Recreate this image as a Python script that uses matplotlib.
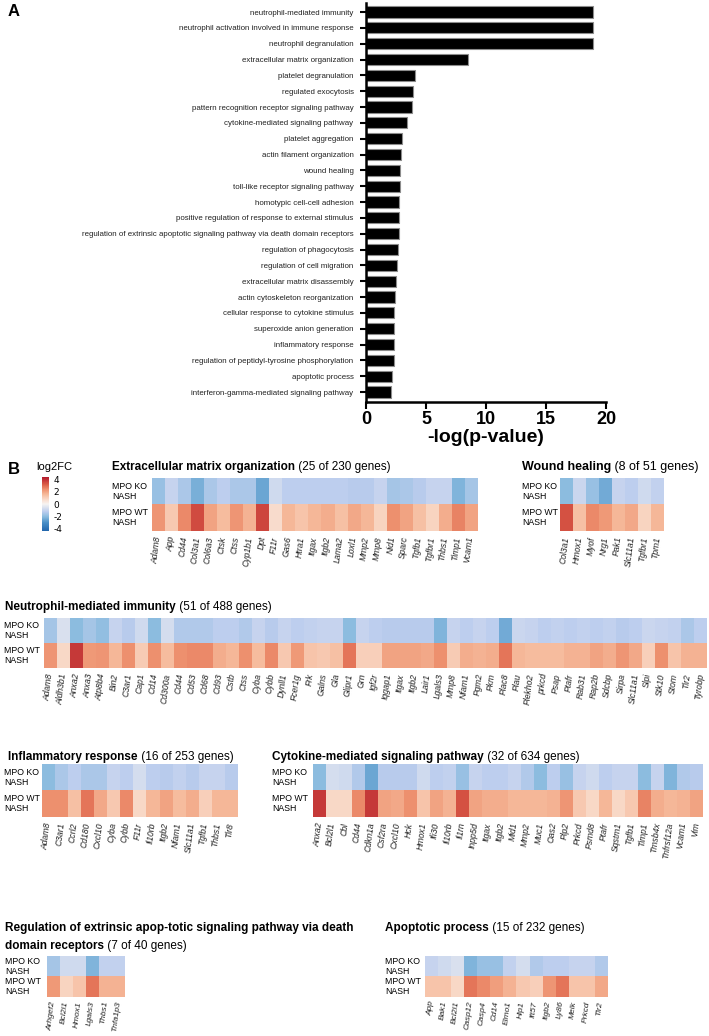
import matplotlib.pyplot as plt
import numpy as np
from matplotlib.colors import LinearSegmentedColormap

plt.rcParams['axes.unicode_minus'] = False

W, H = 709, 1036
NARROW = ['Liberation Sans Narrow', 'Liberation Sans', 'DejaVu Sans']
SANS = ['Liberation Sans', 'DejaVu Sans']

# ---- panel A: GO enrichment ----
terms = [
    'neutrophil-mediated immunity',
    'neutrophil activation involved in immune response',
    'neutrophil degranulation',
    'extracellular matrix organization',
    'platelet degranulation',
    'regulated exocytosis',
    'pattern recognition receptor signaling pathway',
    'cytokine-mediated signaling pathway',
    'platelet aggregation',
    'actin filament organization',
    'wound healing',
    'toll-like receptor signaling pathway',
    'homotypic cell-cell adhesion',
    'positive regulation of response to external stimulus',
    'regulation of extrinsic apoptotic signaling pathway via death domain receptors',
    'regulation of phagocytosis',
    'regulation of cell migration',
    'extracellular matrix disassembly',
    'actin cytoskeleton reorganization',
    'cellular response to cytokine stimulus',
    'superoxide anion generation',
    'inflammatory response',
    'regulation of peptidyl-tyrosine phosphorylation',
    'apoptotic process',
    'interferon-gamma-mediated signaling pathway',
]
neg_log_p = [18.9, 18.9, 18.9, 8.5, 4.05, 3.95, 3.85, 3.4, 3.0, 2.9, 2.85,
             2.8, 2.75, 2.73, 2.72, 2.65, 2.58, 2.46, 2.42, 2.32, 2.31, 2.31,
             2.31, 2.2, 2.12]

# ---- panel B: log2FC heatmaps (row 0 = MPO KO NASH, row 1 = MPO WT NASH) ----
ecm_genes = ['Adam8', 'App', 'Cd44', 'Col3a1', 'Col6a3', 'Ctsk', 'Ctss', 'Cyp1b1',
             'Dpt', 'F11r', 'Gas6', 'Htra1', 'Itgax', 'Itgb2', 'Lama2', 'Loxl1',
             'Mmp2', 'Mmp8', 'Nid1', 'Sparc', 'Tgfb1', 'Tgfbr1', 'Thbs1', 'Timp1', 'Vcam1']
ecm_ko = [-1.8, -1.0, -1.5, -2.3, -1.5, -1.2, -1.5, -1.5, -2.5, -0.8, -1.2, -1.2, -1.2,
          -1.2, -1.2, -1.3, -1.3, -1.0, -1.6, -1.5, -1.3, -1.0, -1.0, -2.2, -1.6]
ecm_wt = [2.3, 1.2, 2.5, 3.5, 2.0, 1.5, 2.3, 1.7, 3.6, 0.7, 1.6, 1.3, 1.6,
          1.8, 1.4, 1.9, 1.6, 0.9, 2.4, 2.0, 1.4, 0.9, 1.8, 2.6, 2.0]

wound_genes = ['Col3a1', 'Hmox1', 'Myof', 'Nrg1', 'Pak1', 'Slc11a1', 'Tgfbr1', 'Tpm1']
wound_ko = [-2.0, -0.9, -1.8, -2.4, -1.0, -1.2, -0.8, -1.1]
wound_wt = [3.4, 1.4, 2.5, 2.2, 1.6, 1.9, 0.9, 1.6]

neut_genes = ['Adam8', 'Aldh3b1', 'Anxa2', 'Anxa3', 'Atp8b4', 'Bin2', 'C3ar1', 'Cap1',
              'Cd14', 'Cd300a', 'Cd44', 'Cd53', 'Cd68', 'Cd93', 'Cstb', 'Ctss', 'Cyba',
              'Cybb', 'Dynll1', 'Fcer1g', 'Frk', 'Galns', 'Gla', 'Glipr1', 'Grn', 'Igf2r',
              'Iqgap1', 'Itgax', 'Itgb2', 'Lair1', 'Lgals3', 'Mmp8', 'Nfam1', 'Pgm2', 'Pkm',
              'Plac8', 'Plau', 'Plekho2', 'prkcd', 'Psap', 'Ptafr', 'Rab31', 'Rap2b',
              'Sdcbp', 'Sirpa', 'Slc11a1', 'Slpi', 'Stk10', 'Stom', 'Tlr2', 'Tyrobp']
neut_ko = [-1.6, -0.6, -2.0, -1.6, -1.9, -1.0, -1.3, -0.8, -2.0, -0.7, -1.4, -1.4, -1.4,
           -1.2, -1.2, -1.4, -1.0, -1.3, -1.0, -1.2, -1.1, -1.0, -1.0, -2.0, -1.0, -1.2,
           -1.3, -1.3, -1.3, -1.3, -2.2, -1.0, -1.2, -1.0, -1.2, -2.4, -0.9, -1.0, -1.2,
           -1.1, -1.2, -1.1, -1.2, -1.1, -1.3, -1.2, -0.9, -1.0, -1.1, -1.5, -1.2]
neut_wt = [2.3, 0.8, 3.8, 2.2, 2.3, 1.6, 2.4, 1.1, 2.4, 1.5, 2.4, 2.5, 2.5, 1.8, 1.6,
           2.4, 1.5, 2.5, 1.2, 2.2, 1.3, 1.2, 1.4, 2.8, 1.0, 1.0, 2.0, 2.0, 2.0, 1.9,
           2.4, 1.1, 1.8, 1.7, 1.8, 2.8, 1.6, 1.5, 1.5, 1.5, 1.7, 1.7, 2.0, 1.8, 2.3,
           1.9, 1.0, 2.4, 1.3, 1.7, 1.7]

infl_genes = ['Adam8', 'C3ar1', 'Ccrl2', 'Cd180', 'Cxcl10', 'Cyba', 'Cybb', 'F11r',
              'Il10rb', 'Itgb2', 'Nfam1', 'Slc11a1', 'Tgfb1', 'Thbs1', 'Tlr8']
infl_ko = [-2.0, -1.5, -1.2, -1.5, -1.5, -1.0, -1.2, -0.7, -1.2, -1.3, -1.1, -1.3,
           -1.0, -1.0, -1.3]
infl_wt = [2.4, 2.4, 1.4, 2.8, 1.9, 1.2, 2.5, 0.8, 1.6, 2.0, 1.5, 1.8, 1.0, 1.6, 1.6]

cyto_genes = ['Anxa2', 'Bcl2l1', 'Cbl', 'Cd44', 'Cdkn1a', 'Csf2ra', 'Cxcl10', 'Hck',
              'Hmox1', 'Ifi30', 'Il10rb', 'Il1rn', 'Inpp5d', 'Itgax', 'Itgb2', 'Mid1',
              'Mmp2', 'Muc1', 'Oas2', 'Plp2', 'Prkcd', 'Psmd8', 'Ptafr', 'Sqstm1',
              'Tgfb1', 'Timp1', 'Tmsb4x', 'Tnfrsf12a', 'Vcam1', 'Vim']
cyto_ko = [-2.0, -0.7, -0.8, -1.4, -2.5, -1.3, -1.3, -1.3, -0.8, -1.2, -1.1, -1.8,
           -1.0, -1.2, -1.2, -1.0, -1.4, -2.0, -1.2, -1.8, -1.0, -0.8, -1.2, -1.0,
           -1.0, -2.0, -1.0, -2.2, -1.4, -1.3]
cyto_wt = [3.8, 0.8, 0.8, 2.5, 3.8, 2.0, 1.9, 2.4, 1.3, 2.0, 1.7, 3.4, 2.0, 1.8, 1.8,
           1.6, 1.6, 1.6, 1.7, 2.3, 1.2, 0.8, 1.6, 0.8, 1.2, 2.6, 1.8, 1.6, 1.7, 2.0]

reg_genes = ['Arhgef2', 'Bcl2l1', 'Hmox1', 'Lgals3', 'Thbs1', 'Tnfa1p3']
reg_ko = [-1.6, -0.8, -0.8, -2.2, -1.1, -1.1]
reg_wt = [2.2, 0.9, 1.3, 2.8, 1.7, 1.7]

apop_genes = ['App', 'Bak1', 'Bcl2l1', 'Casp12', 'Casp4', 'Cd14', 'Elmo1', 'Hip1',
              'Ift57', 'Itgb2', 'Ly86', 'Melk', 'Prkcd', 'Tlr2']
apop_ko = [-1.0, -0.8, -0.6, -2.2, -1.8, -1.8, -1.1, -0.7, -1.4, -1.2, -1.2, -1.0,
           -1.0, -1.4]
apop_wt = [1.3, 1.3, 0.8, 2.8, 2.5, 2.1, 1.7, 1.2, 1.0, 2.3, 2.8, 1.3, 1.3, 1.9]

VMAX = 4.4
cmap = LinearSegmentedColormap.from_list('fc', [
    (0.00, '#2166ac'), (0.16, '#4a90c8'), (0.27, '#8cbcdf'), (0.36, '#bccdee'),
    (0.44, '#dde3ef'), (0.50, '#f7f4f2'), (0.59, '#f9d9c8'), (0.68, '#f6b99a'),
    (0.77, '#ee9270'), (0.86, '#dc5f48'), (1.00, '#b2182b')])


def px_box(x0, y0, x1, y1):
    return [x0 / W, 1 - y1 / H, (x1 - x0) / W, (y1 - y0) / H]


def title(x, y, bold, normal=None, size=8.5):
    t = fig.text(x / W, 1 - y / H, bold, fontsize=size, fontweight='bold',
                 family=SANS, va='center', ha='left')
    if normal:
        fig.add_artist(plt.Annotation(normal, xy=(1, 0.5), xycoords=t, va='center',
                                      ha='left', fontsize=size, family=SANS))
    return t


def heatmap(box, label_x, genes, ko, wt, gsize=6.2, gpad=4):
    ax = fig.add_axes(px_box(*box))
    ax.imshow(np.array([ko, wt]), cmap=cmap, vmin=-VMAX, vmax=VMAX,
              aspect='auto', interpolation='nearest')
    ax.set_xticks(range(len(genes)))
    ax.set_xticklabels(genes, rotation=83, rotation_mode='anchor', ha='right',
                       va='center', fontstyle='italic', fontsize=gsize, family=SANS,
                       color='#222222')
    ax.tick_params(axis='x', length=0, pad=gpad)
    ax.set_yticks([])
    for s in ax.spines.values():
        s.set_visible(False)
    x0, y0, x1, y1 = box
    rh = (y1 - y0) / 2
    for i, lab in enumerate(['MPO KO\nNASH', 'MPO WT\nNASH']):
        fig.text(label_x / W, 1 - (y0 + rh * (i + 0.5)) / H, lab, fontsize=6.3,
                 family=SANS, va='center', ha='left', linespacing=1.2)
    return ax


fig = plt.figure(figsize=(W / 100, H / 100), dpi=100)

# ---- A ----
ax = fig.add_axes(px_box(366, 3, 606, 402))
y = np.arange(len(terms))
ax.barh(y, neg_log_p, height=0.7, color='black', edgecolor='#8c8c8c', linewidth=0.8)
ax.set_ylim(len(terms) - 1 + 0.63, -0.57)
ax.set_xlim(0, 20)
ax.set_xticks([0, 5, 10, 15, 20])
ax.set_yticks(y)
ax.set_yticklabels(terms, fontsize=5.7, family=NARROW, color='#222222')
for lab in ax.get_xticklabels():
    lab.set_fontweight('bold')
    lab.set_fontsize(13)
    lab.set_family(NARROW)
ax.set_xlabel('-log(p-value)', fontsize=14, fontweight='bold', family=NARROW, labelpad=1)
ax.tick_params(axis='y', length=4, width=1.5, pad=5)
ax.tick_params(axis='x', length=5, width=1.5, pad=1.5)
for s in ['top', 'right']:
    ax.spines[s].set_visible(False)
for s in ['left', 'bottom']:
    ax.spines[s].set_linewidth(1.8)

fig.text(8 / W, 1 - 12 / H, 'A', fontsize=12, fontweight='bold', family=SANS, va='center')
fig.text(8 / W, 1 - 470 / H, 'B', fontsize=12, fontweight='bold', family=SANS, va='center')

# ---- B: colorbar ----
fig.text(36 / W, 1 - 467 / H, 'log2FC', fontsize=8, family=SANS, va='center')
cax = fig.add_axes(px_box(42, 477, 49, 531))
sm = plt.cm.ScalarMappable(cmap=cmap, norm=plt.Normalize(-VMAX, VMAX))
cb = fig.colorbar(sm, cax=cax, ticks=[4, 2, 0, -2, -4])
cb.outline.set_visible(False)
cb.ax.tick_params(length=0, pad=3, labelsize=6.5)

# ---- B: heatmaps ----
title(112, 467, 'Extracellular matrix organization', ' (25 of 230 genes)')
heatmap((152, 478, 477, 531), 112, ecm_genes, ecm_ko, ecm_wt)

title(522, 467, 'Wound healing', ' (8 of 51 genes)', size=9)
heatmap((560, 478, 664, 531), 522, wound_genes, wound_ko, wound_wt)

title(5, 607, 'Neutrophil-mediated immunity', ' (51 of 488 genes)')
heatmap((44, 618, 707, 668), 4, neut_genes, neut_ko, neut_wt)

title(8, 757, 'Inflammatory response', ' (16 of 253 genes)')
heatmap((42, 764, 237, 817), 4, infl_genes, infl_ko, infl_wt)

title(272, 757, 'Cytokine-mediated signaling pathway', ' (32 of 634 genes)')
heatmap((313, 764, 703, 817), 272, cyto_genes, cyto_ko, cyto_wt)

title(5, 928, 'Regulation of extrinsic apop-totic signaling pathway via death')
title(5, 946, 'domain receptors', ' (7 of 40 genes)')
heatmap((47, 956, 125, 997), 5, reg_genes, reg_ko, reg_wt, gsize=6.0, gpad=3)

title(385, 928, 'Apoptotic process', ' (15 of 232 genes)')
heatmap((425, 956, 607, 997), 385, apop_genes, apop_ko, apop_wt, gsize=6.0, gpad=3)

fig.savefig('out.png', dpi=100)
